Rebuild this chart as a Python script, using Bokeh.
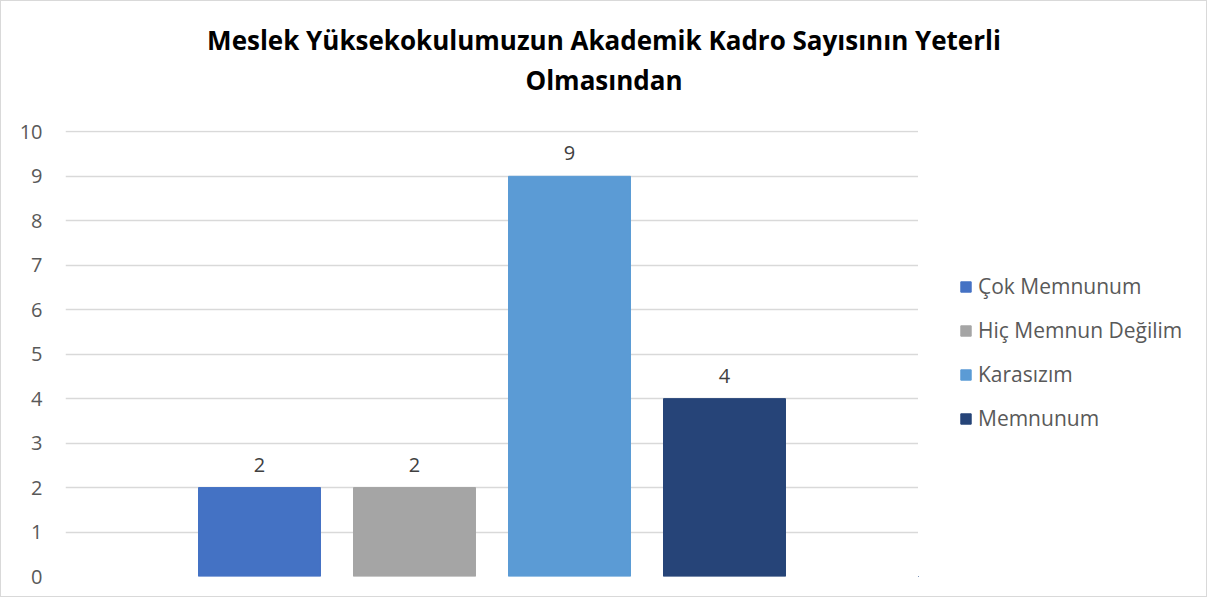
from bokeh.plotting import figure
from bokeh.layouts import row, column
from bokeh.models import (ColumnDataSource, Range1d, LabelSet, Label, Legend, LegendItem,
                          FixedTicker)
from bokeh.embed import file_html
from bokeh.resources import INLINE
from bokeh.core.properties import value

# ---- data ----
title_lines = ["Meslek Yüksekokulumuzun Akademik Kadro Sayısının Yeterli", "Olmasından"]
categories = ["Çok Memnunum", "Hiç Memnun Değilim", "Karasızım", "Memnunum"]
counts = [2, 2, 9, 4]
colors = ["#4472C4", "#A5A5A5", "#5B9BD5", "#264478"]
y_ticks = [0, 1, 2, 3, 4, 5, 6, 7, 8, 9, 10]

FONT = "Open Sans"
xs = list(range(len(categories)))
src = ColumnDataSource(dict(x=xs, y=counts, cat=categories, color=colors,
                            lbl=[str(v) for v in counts]))


def blank(fig):
    fig.axis.visible = False
    fig.grid.visible = False
    fig.outline_line_color = None
    fig.background_fill_color = "white"
    fig.border_fill_color = "white"


# ---- title strip ----
TW, TH = 1205, 114
t = figure(width=TW, height=TH, output_backend="svg", toolbar_location=None,
           x_range=Range1d(0, TW), y_range=Range1d(0, TH),
           min_border_left=0, min_border_right=0, min_border_top=0, min_border_bottom=0)
blank(t)
for txt, base in zip(title_lines, [76, 36]):
    t.add_layout(Label(x=TW / 2, y=base, text=txt, text_align="center",
                       text_baseline="alphabetic", text_font=FONT,
                       text_font_size="26px", text_font_style="bold",
                       text_color="#000000"))

# ---- main chart ----
p = figure(frame_width=853, frame_height=446, output_backend="svg", toolbar_location=None,
           x_range=Range1d(-1.2516, 4.2516), y_range=Range1d(0, 10.03),
           min_border_left=64, min_border_right=0, min_border_top=15,
           min_border_bottom=20)
p.outline_line_color = None
p.background_fill_color = "white"
p.border_fill_color = "white"

r = p.vbar(x="x", top="y", width=0.787, color="color", source=src)

p.xaxis.visible = False
p.xgrid.visible = False
p.ygrid.grid_line_color = "#D9D9D9"
p.ygrid.grid_line_width = 1.5
p.yaxis.ticker = FixedTicker(ticks=y_ticks)
p.yaxis.axis_line_color = None
p.yaxis.major_tick_line_color = None
p.yaxis.minor_tick_line_color = None
p.yaxis.major_label_standoff = 17
p.yaxis.major_label_text_font = FONT
p.yaxis.major_label_text_font_size = "20px"
p.yaxis.major_label_text_color = "#595959"

labels = LabelSet(x="x", y="y", text="lbl", source=src, text_align="center",
                  text_baseline="middle", y_offset=23, text_font=value(FONT),
                  text_font_size="20px", text_color="#404040")
p.add_layout(labels)

# ---- legend panel ----
LH = 15 + 446 + 20
lg = figure(width=288, height=LH, output_backend="svg", toolbar_location=None,
            x_range=Range1d(100, 101), y_range=Range1d(100, 101),
            min_border_left=0, min_border_right=0, min_border_top=0, min_border_bottom=0)
blank(lg)
r2 = lg.vbar(x="x", top="y", width=0.787, color="color", source=src)

legend = Legend(items=[LegendItem(label=c, renderers=[r2], index=i) for i, c in enumerate(categories)])
legend.location = (41, 144)
legend.padding = 0
legend.margin = 0
legend.spacing = 16
legend.glyph_width = 13
legend.glyph_height = 13
legend.label_height = 24
legend.label_standoff = 6
legend.label_text_font = FONT
legend.label_text_font_size = "21px"
legend.label_text_color = "#595959"
legend.border_line_color = None
legend.background_fill_alpha = 0
lg.add_layout(legend)

layout = column(t, row(p, lg), styles={"border": "1.5px solid #D9D9D9"})

open("out.html", "w").write(file_html(layout, INLINE))
